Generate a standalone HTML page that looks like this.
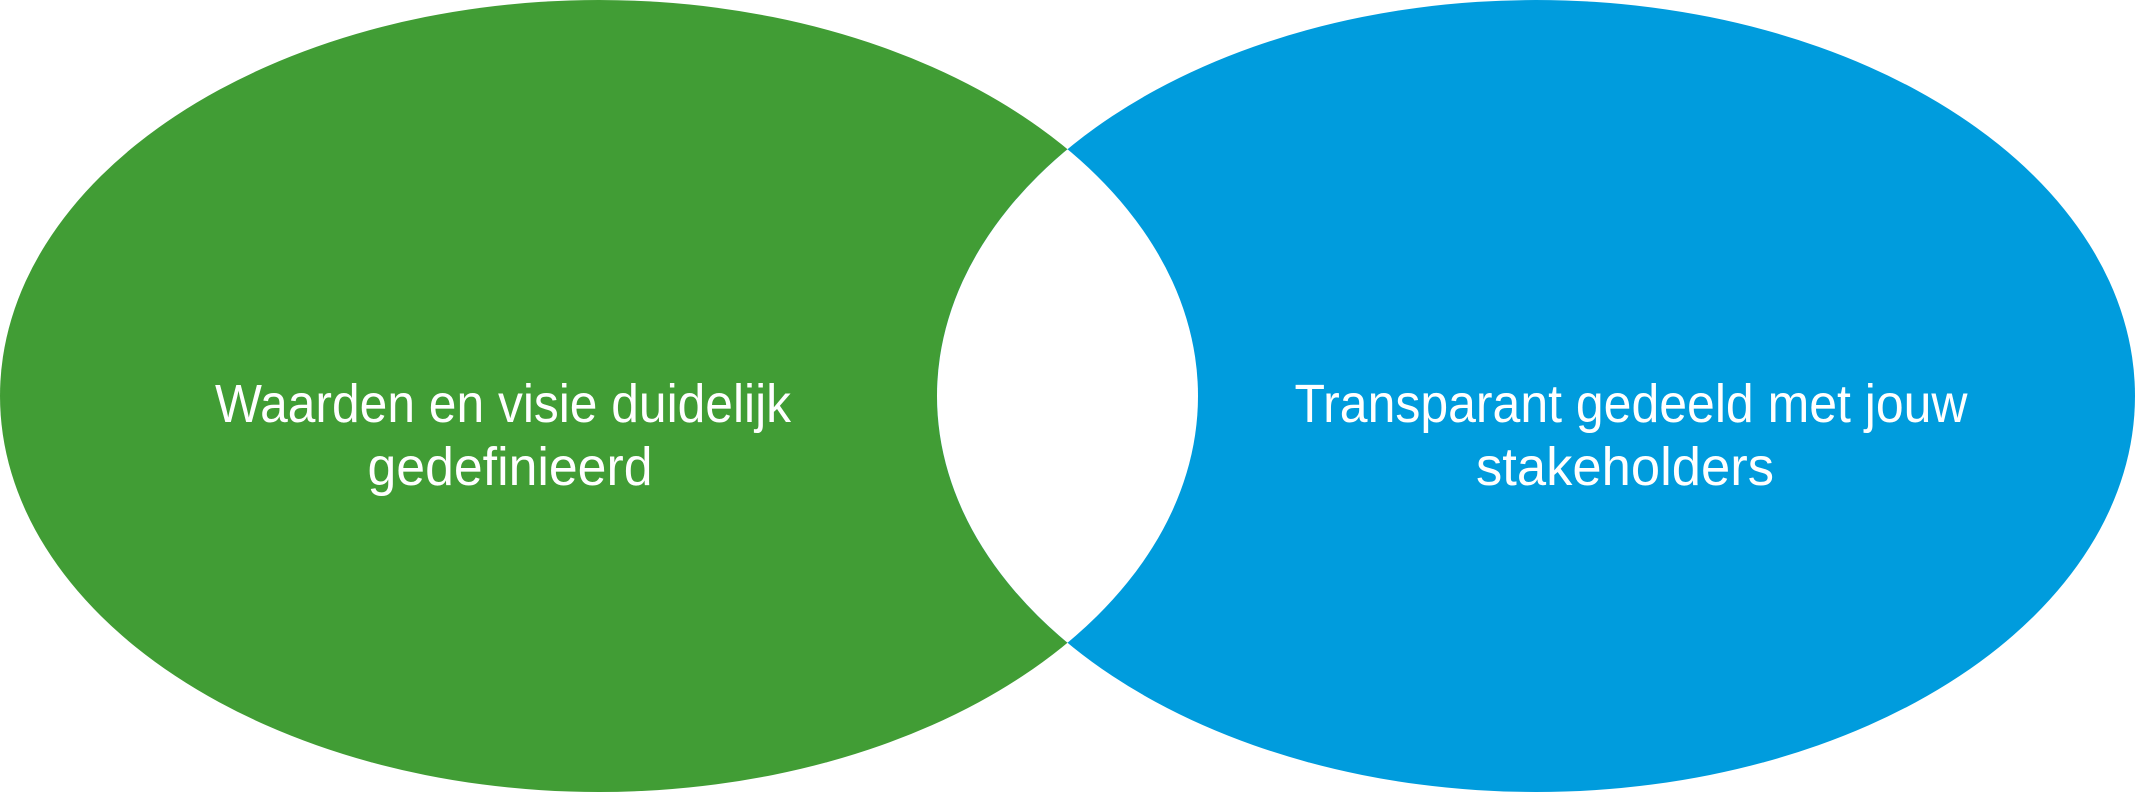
<!DOCTYPE html>
<html><head><style>html,body{margin:0;padding:0;background:#fff}svg{display:block}</style></head><body>
<svg width="2135" height="793" viewBox="0 0 2135 793" xmlns="http://www.w3.org/2000/svg">
<defs><clipPath id="g"><ellipse cx="599" cy="396" rx="599" ry="396"/></clipPath></defs>
<ellipse cx="599" cy="396" rx="599" ry="396" fill="#419D35"/>
<ellipse cx="1536" cy="396" rx="599" ry="396" fill="#009CDD"/>
<ellipse cx="1536" cy="396" rx="599" ry="396" fill="#fff" clip-path="url(#g)"/>
<g font-family="Liberation Sans Narrow, Liberation Sans, sans-serif" font-size="54" fill="#fff" text-anchor="middle">
<text x="503" y="422" textLength="576" lengthAdjust="spacingAndGlyphs">Waarden en visie duidelijk</text>
<text x="510" y="485" textLength="285" lengthAdjust="spacingAndGlyphs">gedefinieerd</text>
<text x="1631" y="422" textLength="673" lengthAdjust="spacingAndGlyphs">Transparant gedeeld met jouw</text>
<text x="1625" y="485" textLength="298" lengthAdjust="spacingAndGlyphs">stakeholders</text>
</g>
</svg>
</body></html>
